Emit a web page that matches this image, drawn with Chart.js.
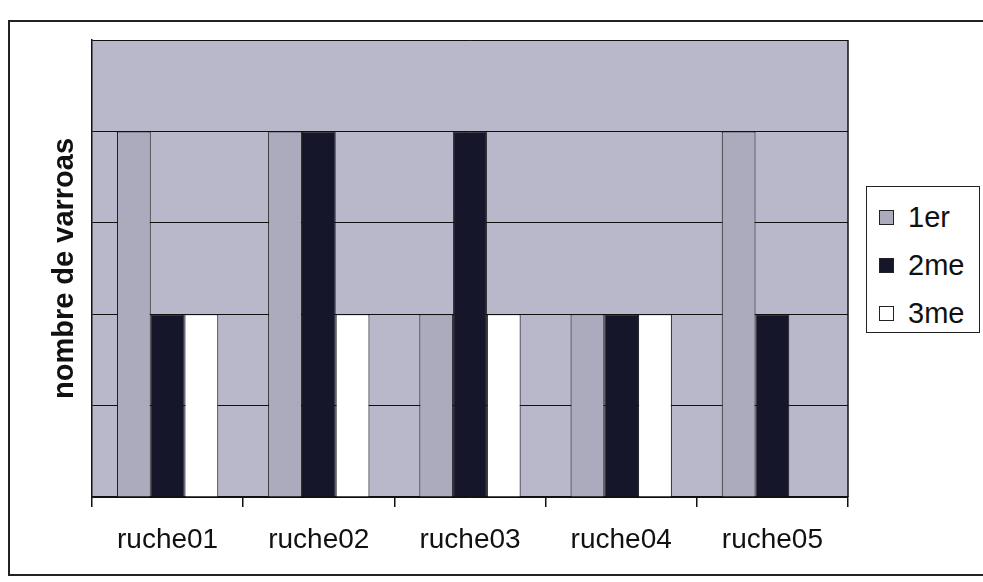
<!DOCTYPE html>
<html>
<head>
<meta charset="utf-8">
<script src="https://cdn.jsdelivr.net/npm/chart.js@4"></script>
<style>
  body { margin: 0; background: #fff; font-family: "Liberation Sans", Arial, sans-serif; }
  #wrap { position: relative; width: 983px; height: 582px; overflow: hidden; }
  #frame { position: absolute; left: 8px; top: 20px; width: 1000px; height: 552px; border: 2px solid #222; }
  #chart { position: absolute; left: 0; top: 0; }
  #legend { position: absolute; left: 866px; top: 186px; width: 114px; height: 147px; border: 1.5px solid #222; background: #fff; box-sizing: border-box; padding-top: 6px; }
  .item { height: 48px; display: flex; align-items: center; font-size: 29px; color: #111; }
  .swatch { width: 13px; height: 13px; border: 1px solid #222; margin-left: 12px; margin-right: 14px; }
</style>
</head>
<body>
<div id="wrap">
  <div id="frame"></div>
  <canvas id="chart" width="983" height="582"></canvas>
  <div id="legend"></div>
</div>
<script>
  const ruches = ["ruche01", "ruche02", "ruche03", "ruche04", "ruche05"];
  const passage1 = [4, 4, 2, 2, 4];
  const passage2 = [2, 4, 4, 2, 2];
  const passage3 = [2, 2, 2, 2, 0];
  const seriesNames = ["1er", "2me", "3me"];
  const seriesColors = ["#acabbd", "#16162b", "#ffffff"];

  const plotBackground = {
    id: "plotBackground",
    beforeDraw(chart) {
      const { ctx, chartArea: a } = chart;
      ctx.save();
      ctx.fillStyle = "#b9b8ca";
      ctx.fillRect(a.left, a.top, a.right - a.left, a.bottom - a.top);
      ctx.restore();
    },
    afterDraw(chart) {
      const { ctx, chartArea: a } = chart;
      ctx.save();
      ctx.strokeStyle = "#111";
      ctx.lineWidth = 1.5;
      ctx.beginPath();
      ctx.moveTo(a.right, a.top);
      ctx.lineTo(a.right, a.bottom);
      ctx.stroke();
      ctx.restore();
    }
  };

  const ctx = document.getElementById("chart").getContext("2d");
  const chart = new Chart(ctx, {
    type: "bar",
    data: {
      labels: ruches,
      datasets: [passage1, passage2, passage3].map((values, i) => ({
        label: seriesNames[i],
        data: values,
        backgroundColor: seriesColors[i],
        borderColor: "#111",
        borderWidth: 1,
        borderSkipped: "bottom"
      }))
    },
    options: {
      responsive: false,
      animation: false,
      layout: { padding: { left: 0, right: 135, top: 40, bottom: 25 } },
      plugins: { legend: { display: false }, tooltip: { enabled: false } },
      datasets: { bar: { categoryPercentage: 0.67, barPercentage: 1 } },
      scales: {
        x: {
          afterFit: s => { s.height = 60; },
          grid: { offset: true, drawOnChartArea: false, drawTicks: true, tickLength: 10, color: "#111", lineWidth: 1.5 },
          border: { display: true, color: "#111", width: 1.5 },
          ticks: { color: "#111", font: { family: "Liberation Sans", size: 28 }, padding: 16 }
        },
        y: {
          min: 0, max: 5,
          afterFit: s => { s.width = 92; },
          ticks: { display: false, stepSize: 1 },
          grid: { color: "#111", lineWidth: 1, drawTicks: false },
          border: { display: true, color: "#111", width: 1.5 },
          title: {
            display: true,
            text: "nombre de varroas",
            color: "#111",
            font: { family: "Liberation Sans", size: 29, weight: "bold" },
            padding: { top: 48, bottom: 0 }
          }
        }
      }
    },
    plugins: [plotBackground]
  });

  const legend = document.getElementById("legend");
  chart.data.datasets.forEach(ds => {
    const row = document.createElement("div");
    row.className = "item";
    row.innerHTML = `<span class="swatch" style="background:${ds.backgroundColor}"></span><span>${ds.label}</span>`;
    legend.appendChild(row);
  });
</script>
</body>
</html>
